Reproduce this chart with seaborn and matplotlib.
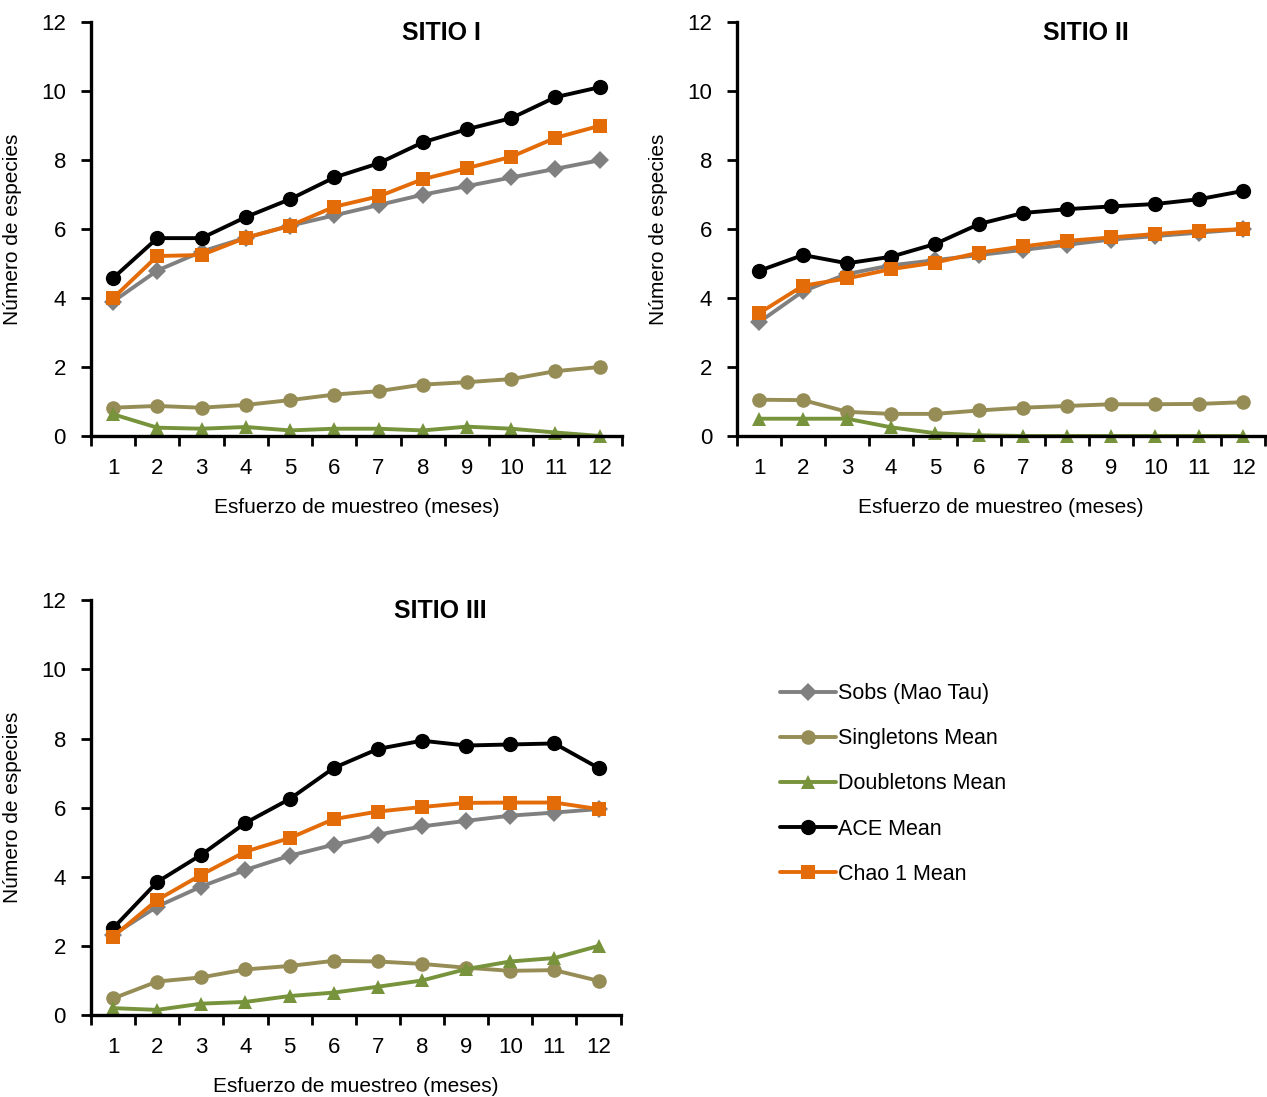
import numpy as np
import pandas as pd
import matplotlib
matplotlib.use("Agg")
import matplotlib.pyplot as plt
import seaborn as sns

meses = list(range(1, 13))

# SITIO I
s1_sobs = [3.9, 4.8, 5.35, 5.75, 6.1, 6.4, 6.7, 7.0, 7.25, 7.5, 7.75, 8.0]
s1_single = [0.82, 0.87, 0.82, 0.9, 1.04, 1.2, 1.3, 1.49, 1.56, 1.65, 1.88, 2.0]
s1_double = [0.63, 0.24, 0.21, 0.26, 0.16, 0.21, 0.21, 0.16, 0.27, 0.21, 0.1, 0.0]
s1_ace = [4.58, 5.74, 5.74, 6.35, 6.87, 7.5, 7.91, 8.52, 8.9, 9.22, 9.83, 10.12]
s1_chao = [4.0, 5.22, 5.25, 5.75, 6.1, 6.65, 6.95, 7.45, 7.77, 8.1, 8.65, 9.0]

# SITIO II
s2_sobs = [3.3, 4.2, 4.7, 4.95, 5.1, 5.25, 5.4, 5.55, 5.7, 5.8, 5.9, 6.0]
s2_single = [1.05, 1.04, 0.7, 0.64, 0.64, 0.74, 0.82, 0.87, 0.92, 0.92, 0.93, 0.98]
s2_double = [0.5, 0.5, 0.5, 0.25, 0.08, 0.02, 0.0, 0.0, 0.0, 0.0, 0.0, 0.0]
s2_ace = [4.79, 5.25, 5.01, 5.2, 5.57, 6.15, 6.47, 6.58, 6.66, 6.73, 6.87, 7.11]
s2_chao = [3.56, 4.36, 4.57, 4.84, 5.03, 5.32, 5.5, 5.66, 5.76, 5.86, 5.95, 6.0]

# SITIO III
s3_sobs = [2.32, 3.14, 3.72, 4.2, 4.61, 4.93, 5.22, 5.46, 5.62, 5.77, 5.86, 5.96]
s3_single = [0.48, 0.97, 1.09, 1.32, 1.42, 1.57, 1.55, 1.48, 1.37, 1.28, 1.3, 0.99]
s3_double = [0.2, 0.15, 0.33, 0.38, 0.55, 0.65, 0.82, 1.0, 1.33, 1.55, 1.65, 2.0]
s3_ace = [2.51, 3.85, 4.64, 5.56, 6.25, 7.15, 7.7, 7.94, 7.8, 7.83, 7.86, 7.15]
s3_chao = [2.27, 3.33, 4.06, 4.73, 5.12, 5.67, 5.89, 6.02, 6.14, 6.15, 6.15, 5.96]

series_names = ["Sobs (Mao Tau)", "Singletons Mean", "Doubletons Mean", "ACE Mean", "Chao 1 Mean"]
colors = ["#808080", "#968C55", "#77933C", "#000000", "#E36C09"]
markers = ["D", "o", "^", "o", "s"]
msizes = [9.5, 10.5, 10.5, 11, 10]

sns.set_style("white")
plt.rcParams['font.family'] = ['Liberation Sans', 'DejaVu Sans']
plt.rcParams['text.color'] = 'black'
plt.rcParams['axes.labelcolor'] = 'black'
plt.rcParams['xtick.color'] = 'black'
plt.rcParams['ytick.color'] = 'black'

fig = plt.figure(figsize=(12.67, 10.97), dpi=100)

sitios = [
    ("SITIO I", [s1_sobs, s1_single, s1_double, s1_ace, s1_chao], [0.0718, 0.6026, 0.419, 0.377]),
    ("SITIO II", [s2_sobs, s2_single, s2_double, s2_ace, s2_chao], [0.5817, 0.6026, 0.417, 0.377]),
    ("SITIO III", [s3_sobs, s3_single, s3_double, s3_ace, s3_chao], [0.0718, 0.0747, 0.418, 0.378]),
]

for titulo, datos, pos in sitios:
    ax = fig.add_axes(pos)
    for nombre, vals, c, m, ms in zip(series_names, datos, colors, markers, msizes):
        df = pd.DataFrame({"mes": meses, "valor": vals})
        sns.lineplot(data=df, x="mes", y="valor", ax=ax, color=c, marker=m,
                     markersize=ms, markeredgewidth=0, linewidth=2.8, label=nombre,
                     legend=False, clip_on=False)
    ax.set_xlim(0.5, 12.5)
    ax.set_ylim(0, 12)
    ax.set_yticks(np.arange(0, 13, 2))
    ax.set_xticks(meses)
    ax.set_xticks(np.arange(0.5, 13, 1), minor=True)
    ax.tick_params(axis="x", which="major", length=0, labelsize=16, pad=16)
    ax.tick_params(axis="x", which="minor", length=7, width=2, direction="out", bottom=True)
    ax.tick_params(axis="y", length=7, width=2, direction="out", left=True, labelsize=16, pad=11)
    for s in ["top", "right"]:
        ax.spines[s].set_visible(False)
    for s in ["left", "bottom"]:
        ax.spines[s].set_linewidth(2.4)
        ax.spines[s].set_color("black")
    ax.set_xlabel("Esfuerzo de muestreo (meses)", fontsize=15)
    ax.set_ylabel("Número de especies", fontsize=15)
    ax.xaxis.set_label_coords(0.5, -0.149)
    ax.yaxis.set_label_coords(-0.13, 0.5)
    ax.text(0.66, 0.975, titulo, transform=ax.transAxes, ha="center", va="center",
            fontsize=18, fontweight="bold")

handles, labels = fig.axes[2].get_legend_handles_labels()
fig.legend(handles, labels, loc="upper left", bbox_to_anchor=(0.6085, 0.385),
           frameon=False, fontsize=15.5, handlelength=2.6, labelspacing=1.12,
           handletextpad=0.1, borderaxespad=0)

fig.savefig("out.png", dpi=100)
